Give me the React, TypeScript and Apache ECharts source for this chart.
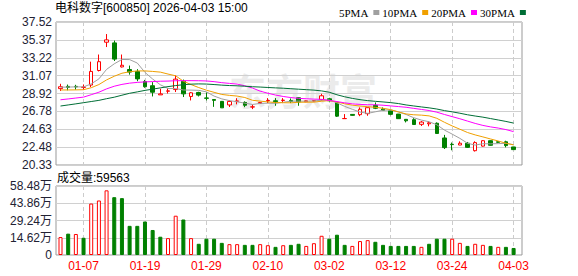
import { useEffect, useRef } from 'react';
import * as echarts from 'echarts';

const dates = [
  '12-31', '01-05', '01-06', '01-07', '01-08', '01-09', '01-12', '01-13', '01-14', '01-15',
  '01-16', '01-19', '01-20', '01-21', '01-22', '01-23', '01-26', '01-27', '01-28', '01-29',
  '01-30', '02-02', '02-03', '02-04', '02-05', '02-06', '02-09', '02-10', '02-11', '02-12',
  '02-13', '02-24', '02-25', '02-26', '02-27', '03-02', '03-03', '03-04', '03-05', '03-06',
  '03-09', '03-10', '03-11', '03-12', '03-13', '03-16', '03-17', '03-18', '03-19', '03-20',
  '03-23', '03-24', '03-25', '03-26', '03-27', '03-30', '03-31', '04-01', '04-02', '04-03',
];

const opens = [
  29.51, 29.78, 29.78, 29.66, 29.94, 31.69, 35.09, 35.01, 32.12, 31.81,
  31.58, 30.37, 29.86, 28.76, 29.2, 29.4, 30.4, 28.57, 29.05, 28.39,
  28.2, 27.98, 27.55, 27.99, 27.86, 27.3, 27.72, 28.05, 28.05, 28.09,
  28.09, 28.41, 27.93, 28.03, 28.17, 28.29, 27.85, 25.9, 26.41, 26.38,
  26.5, 27.5, 27.05, 26.84, 26.45, 25.82, 25.78, 25.22, 25.28, 25.35,
  23.58, 22.82, 22.73, 22.95, 22.05, 22.6, 23.25, 23.12, 23.12, 22.5,
];
const closes = [
  29.74, 29.66, 29.72, 29.7, 31.58, 32.75, 35.37, 33.06, 32.32, 31.5,
  30.68, 29.74, 29.08, 28.88, 29.24, 30.65, 28.88, 29.01, 28.73, 28.35,
  28.1, 27.2, 27.97, 28.03, 27.51, 27.32, 27.85, 28.09, 27.95, 28.13,
  27.97, 27.91, 28.05, 28.07, 28.65, 28.05, 26.2, 25.92, 26.3, 27.03,
  27.22, 27.15, 26.9, 26.42, 25.9, 25.64, 25.2, 25.49, 25.4, 24.12,
  22.42, 22.78, 22.95, 22.45, 23.02, 23.25, 22.7, 23.06, 22.66, 22.18,
];
const lows = [
  29.23, 29.31, 29.39, 29.39, 29.7, 31.58, 34.51, 32.83, 32.05, 31.19,
  30.4, 29.62, 28.57, 28.76, 28.92, 29.1, 28.5, 28.09, 28.57, 28.09,
  27.32, 27.2, 27.3, 27.62, 27.28, 27.05, 27.68, 27.77, 27.45, 27.77,
  27.77, 27.45, 27.9, 27.98, 28.09, 27.97, 26.1, 25.9, 26.25, 26.2,
  26.25, 27.05, 26.86, 26.31, 25.86, 25.45, 25.18, 25.02, 24.98, 24.12,
  22.25, 22.1, 22.72, 22.38, 21.95, 22.55, 22.66, 23.0, 22.45, 22.16,
];
const highs = [
  30.09, 30.0, 29.97, 30.01, 32.75, 33.61, 36.07, 35.29, 33.61, 32.28,
  31.85, 30.56, 30.29, 29.5, 29.55, 31.1, 30.6, 29.1, 29.13, 29.05,
  28.22, 28.02, 28.1, 28.36, 27.98, 27.6, 27.9, 28.37, 28.37, 28.37,
  28.33, 28.45, 28.1, 28.12, 28.89, 28.41, 27.95, 26.45, 26.45, 27.25,
  27.25, 27.85, 27.25, 26.86, 26.47, 25.85, 25.96, 25.61, 25.6, 25.45,
  23.95, 23.03, 23.17, 23.1, 23.18, 23.32, 23.3, 23.18, 23.25, 22.52,
];

// volume in 万 (10k lots)
const volumes = [
  15.2, 18.1, 17.8, 14.6, 43.6, 46.2, 54.8, 49.0, 48.2, 24.7,
  24.7, 28.4, 21.2, 15.5, 14.3, 33.3, 30.1, 14.3, 9.5, 13.8,
  13.8, 10.3, 9.2, 9.2, 8.6, 8.6, 9.2, 8.3, 6.9, 8.3,
  8.6, 9.5, 7.7, 10.0, 16.3, 13.8, 17.2, 8.6, 7.7, 11.8,
  12.6, 11.2, 8.6, 7.7, 7.7, 7.7, 7.7, 6.9, 9.5, 13.8,
  13.8, 13.8, 10.3, 7.7, 9.5, 8.6, 7.7, 6.9, 6.9, 5.9563,
];

const ma5Head = [29.68, 29.7, 29.72, 29.72];
const ma10Head = [29.35, 29.35, 29.36, 29.38, 29.62, 30.0, 30.56, 31.0, 31.36];
const ma20Head = [
  28.17, 28.27, 28.38, 28.49, 28.78, 29.08, 29.48, 29.8, 30.02, 30.17,
  30.26, 30.32, 30.36, 30.4, 30.42, 30.46, 30.47, 30.47, 30.46,
];
const ma30Head = [
  27.42, 27.55, 27.68, 27.82, 27.96, 28.1, 28.3, 28.48, 28.72, 28.95,
  29.12, 29.3, 29.45, 29.6, 29.75, 29.88, 29.98, 30.05, 30.08, 30.06,
  30.0, 29.93, 29.88, 29.85, 29.8, 29.74, 29.7, 29.65, 29.6,
];

const priceTicks = ['20.33', '22.48', '24.63', '26.78', '28.92', '31.07', '33.22', '35.37', '37.52'];
const volTicks = ['0', '14.62万', '29.24万', '43.86万', '58.48万'];
const volMax = 58.48;
const volStep = 14.62;
const labelDates = ['01-07', '01-19', '01-29', '02-10', '03-02', '03-12', '03-24', '04-03'];

const maNames = ['5PMA', '10PMA', '20PMA', '30PMA'];
const maPeriods = [5, 10, 20, 30];
const maHeads = [ma5Head, ma10Head, ma20Head, ma30Head];
const maColors = ['#a0a0a0', '#f0a000', '#ff00ff', '#006e36'];

const title = '电科数字[600850] 2026-04-03 15:00';

const UP = '#ff0000';
const DOWN = '#008000';
const LABEL = '#222233';

function movingAvg(n: number, head: number[]) {
  return closes.map((_, i) => {
    if (i < n - 1) return head[i];
    let s = 0;
    for (let k = i - n + 1; k <= i; k++) s += closes[k];
    return +(s / n).toFixed(3);
  });
}

export default function App() {
  const ref = useRef<HTMLDivElement>(null);

  useEffect(() => {
    if (!ref.current) return;
    const chart = echarts.init(ref.current, undefined, { renderer: 'svg' });

    const candleData = dates.map((_, i) => [opens[i], closes[i], lows[i], highs[i]]);
    const volData = volumes.map((v, i) => {
      const up = i === 0 ? closes[i] >= opens[i] : closes[i] >= closes[i - 1];
      return {
        value: v,
        itemStyle: up
          ? { color: '#ffffff', borderColor: UP, borderWidth: 1 }
          : { color: DOWN, borderColor: DOWN, borderWidth: 1 },
      };
    });

    const isLabelDate = (index: number) => labelDates.indexOf(dates[index]) >= 0;

    const priceMin = parseFloat(priceTicks[0]);
    const priceMax = parseFloat(priceTicks[priceTicks.length - 1]);

    const frameLeft = 56;
    const frameWidth = 466;
    const dataLeft = 60.5;
    const dataRight = 578 - 513.6;

    const catAxisBase = {
      type: 'category' as const,
      data: dates,
      boundaryGap: false,
      axisLine: { show: false },
      axisTick: { show: false },
      splitLine: {
        show: true,
        interval: (index: number) => isLabelDate(index),
        lineStyle: { color: '#cccccc', type: [4, 3] as any, width: 1 },
      },
    };

    const option: any = {
      animation: false,
      backgroundColor: '#ffffff',
      textStyle: { fontFamily: 'Liberation Sans, Noto Sans CJK SC, sans-serif' },
      legend: {
        data: maNames,
        left: 334,
        top: 2,
        align: 'right',
        icon: 'rect',
        itemWidth: 6,
        itemHeight: 5,
        itemGap: 3,
        selectedMode: false,
        textStyle: { fontFamily: 'Liberation Serif, serif', fontSize: 11, color: '#000' },
      },
      graphic: [
        {
          type: 'text',
          x: 303,
          y: 90,
          z: 0,
          silent: true,
          style: {
            text: '东方财富',
            fontSize: 37,
            fontWeight: 'bold',
            fontFamily: 'Noto Sans CJK SC',
            fill: '#ebebeb',
            align: 'center',
            verticalAlign: 'middle',
          },
        },
        {
          type: 'text',
          x: 55,
          y: 8,
          style: {
            text: title,
            fontSize: 12,
            fontFamily: 'Liberation Sans, Noto Sans CJK SC',
            fill: '#000',
            verticalAlign: 'middle',
          },
        },
        {
          type: 'text',
          x: 57,
          y: 178,
          style: {
            text: '成交量:' + Math.round(volumes[volumes.length - 1] * 10000),
            fontSize: 12,
            fontFamily: 'Liberation Sans, Noto Sans CJK SC',
            fill: '#000',
            verticalAlign: 'middle',
          },
        },
      ],
      grid: [
        { left: frameLeft, top: 22, width: frameWidth, height: 143, show: true, borderColor: '#999', borderWidth: 1, backgroundColor: 'transparent' },
        { left: dataLeft, top: 22, right: dataRight, height: 143 },
        { left: frameLeft, top: 186, width: frameWidth, height: 69, show: true, borderColor: '#999', borderWidth: 1, backgroundColor: 'transparent' },
        { left: dataLeft, top: 186, right: dataRight, height: 69 },
      ],
      xAxis: [
        { type: 'value', gridIndex: 0, min: 0, max: 1, show: false },
        { ...catAxisBase, gridIndex: 1, axisLabel: { show: false } },
        { type: 'value', gridIndex: 2, min: 0, max: 1, show: false },
        {
          ...catAxisBase,
          gridIndex: 3,
          axisLabel: {
            show: true,
            interval: (index: number) => isLabelDate(index),
            color: UP,
            fontSize: 12,
            margin: 5,
            fontFamily: 'Liberation Sans',
          },
        },
      ],
      yAxis: [
        {
          type: 'value',
          gridIndex: 0,
          min: 0,
          max: priceTicks.length - 1,
          interval: 1,
          axisLine: { show: false },
          axisTick: { show: false },
          axisLabel: {
            formatter: (v: number) => priceTicks[Math.round(v)],
            color: LABEL,
            fontSize: 12,
            margin: 4,
            fontFamily: 'Liberation Sans',
          },
          splitLine: { lineStyle: { color: '#d0d0d0', width: 1 } },
        },
        { type: 'value', gridIndex: 1, min: priceMin, max: priceMax, show: false, splitLine: { show: false } },
        {
          type: 'value',
          gridIndex: 2,
          min: 0,
          max: volMax,
          interval: volStep,
          axisLine: { show: false },
          axisTick: { show: false },
          axisLabel: {
            formatter: (v: number) => volTicks[Math.round(v / volStep)],
            color: LABEL,
            fontSize: 12,
            margin: 4,
            fontFamily: 'Liberation Sans, Noto Sans CJK SC',
          },
          splitLine: { lineStyle: { color: '#d0d0d0', width: 1 } },
        },
        { type: 'value', gridIndex: 3, min: 0, max: volMax, show: false, splitLine: { show: false } },
      ],
      series: [
        {
          type: 'candlestick',
          name: 'K',
          xAxisIndex: 1,
          yAxisIndex: 1,
          data: candleData,
          barWidth: 4,
          clip: false,
          itemStyle: {
            color: '#ffffff',
            color0: DOWN,
            borderColor: UP,
            borderColor0: DOWN,
            borderWidth: 1,
          },
        },
        ...maNames.map((name, k) => ({
          type: 'line',
          name,
          xAxisIndex: 1,
          yAxisIndex: 1,
          data: movingAvg(maPeriods[k], maHeads[k]),
          showSymbol: false,
          symbol: 'none',
          smooth: false,
          clip: false,
          lineStyle: { color: maColors[k], width: 1 },
          itemStyle: { color: maColors[k] },
        })),
        {
          type: 'bar',
          name: 'VOL',
          xAxisIndex: 3,
          yAxisIndex: 3,
          data: volData,
          barWidth: 4,
          clip: false,
        },
      ],
    };

    chart.setOption(option);
    return () => chart.dispose();
  }, []);

  return (
    <div
      ref={ref}
      style={{ position: 'fixed', left: 0, top: 0, width: 578, height: 276, background: '#fff' }}
    />
  );
}
